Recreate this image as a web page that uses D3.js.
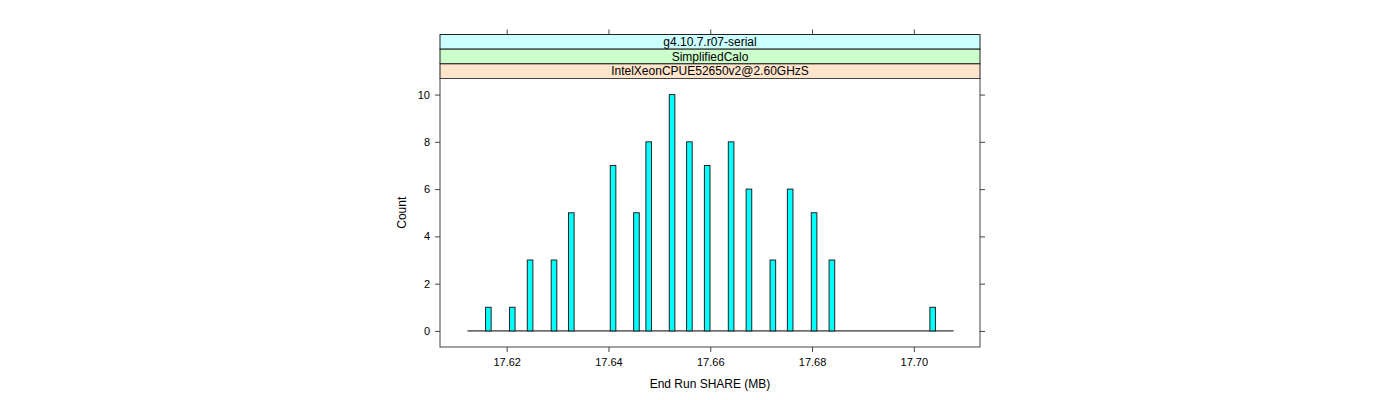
<!DOCTYPE html>
<html><head><meta charset="utf-8">
<script src="https://cdn.jsdelivr.net/npm/d3@7"></script>
<style>body{margin:0;background:#fff}svg{display:block}text{font-family:"Liberation Sans",Arial,sans-serif}</style>
</head><body><svg id="c" width="1400" height="400"></svg>
<script>
const binCenters = [17.6164,17.6211,17.6246,17.6293,17.6327,17.6409,17.6455,17.6479,17.6525,17.6559,17.6594,17.6641,17.6676,17.6723,17.6757,17.6804,17.6839,17.7037];
const counts =     [1,1,3,3,5,7,5,8,10,8,7,8,6,3,6,5,3,1];
const baselineRange = [17.6123,17.7078];
const xTicks = [17.62,17.64,17.66,17.68,17.70];
const yTicks = [0,2,4,6,8,10];
const strips = ["g4.10.7.r07-serial","SimplifiedCalo","IntelXeonCPUE52650v2@2.60GHzS"];
const stripColors = ["#ccffff","#ccffcc","#ffe5cc"];
const barHalfWidth = 0.00055;

const svg = d3.select("#c");
const L=440,R=980,T=78.5,B=347,stripTop=34.5,stripH=(T-stripTop)/3;
const x = d3.scaleLinear().domain([17.6069,17.7130]).range([L,R]);
const y = d3.scaleLinear().domain([-0.68,10.68]).range([B,T]);

// strips
strips.forEach((s,i)=>{
  const y0 = stripTop + i*stripH;
  svg.append("rect").attr("x",L).attr("y",y0).attr("width",R-L).attr("height",stripH)
    .attr("fill",stripColors[i]).attr("stroke","#222").attr("stroke-width",1);
  svg.append("text").attr("x",(L+R)/2).attr("y",y0+stripH/2+4).attr("text-anchor","middle")
    .attr("font-size",12).attr("fill","#000").text(s);
});

// panel
svg.append("rect").attr("x",L).attr("y",T).attr("width",R-L).attr("height",B-T)
  .attr("fill","none").attr("stroke","#444").attr("stroke-width",1);

// axes
const fmtX = d3.format(".2f");
const gB = svg.append("g").attr("transform",`translate(0,${B})`)
  .call(d3.axisBottom(x).tickValues(xTicks).tickFormat(fmtX).tickSize(5).tickPadding(6));
const gT = svg.append("g").attr("transform",`translate(0,${stripTop})`)
  .call(d3.axisTop(x).tickValues(xTicks).tickFormat("").tickSize(5));
const gL = svg.append("g").attr("transform",`translate(${L},0)`)
  .call(d3.axisLeft(y).tickValues(yTicks).tickSize(5).tickPadding(5));
const gR = svg.append("g").attr("transform",`translate(${R},0)`)
  .call(d3.axisRight(y).tickValues(yTicks).tickFormat("").tickSize(5));
[gB,gT,gL,gR].forEach(g=>{
  g.select(".domain").remove();
  g.selectAll(".tick line").attr("stroke","#444");
  g.selectAll(".tick text").attr("font-size",11).attr("fill","#000").attr("font-family","Liberation Sans, Arial, sans-serif");
});

// baseline
svg.append("line").attr("x1",x(baselineRange[0])).attr("x2",x(baselineRange[1]))
  .attr("y1",y(0)).attr("y2",y(0)).attr("stroke","#000").attr("stroke-width",1);

// bars
svg.append("g").selectAll("rect").data(binCenters).join("rect")
  .attr("x",d=>x(d-barHalfWidth))
  .attr("width",d=>x(d+barHalfWidth)-x(d-barHalfWidth))
  .attr("y",(d,i)=>y(counts[i]))
  .attr("height",(d,i)=>y(0)-y(counts[i]))
  .attr("fill","#00ffff").attr("stroke","#222").attr("stroke-width",1);

// labels
svg.append("text").attr("x",(L+R)/2).attr("y",388).attr("text-anchor","middle")
  .attr("font-size",12).text("End Run SHARE (MB)");
svg.append("text").attr("transform",`translate(406,${(T+B)/2}) rotate(-90)`).attr("text-anchor","middle")
  .attr("font-size",12).text("Count");
</script></body></html>
